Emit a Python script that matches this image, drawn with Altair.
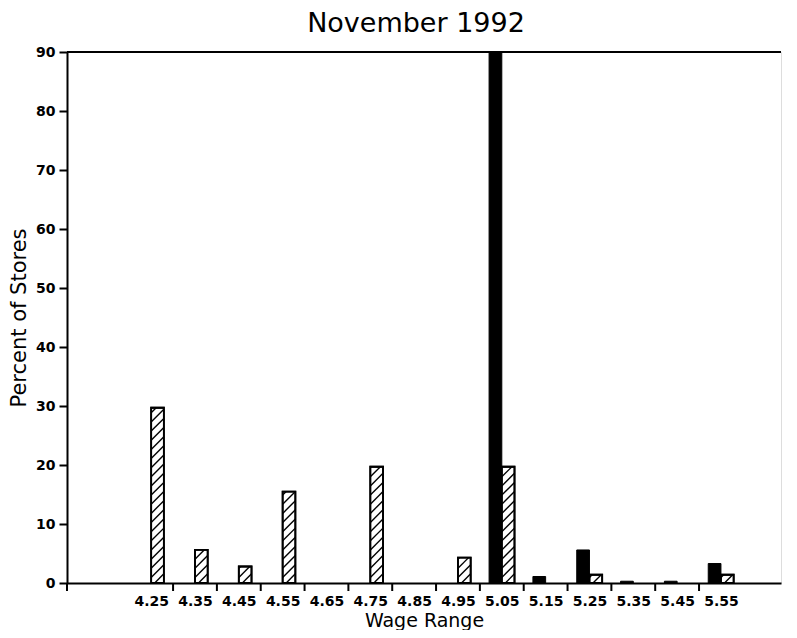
import altair as alt
import pandas as pd
import numpy as np

# ---- data ----
wages = [4.25, 4.35, 4.45, 4.55, 4.65, 4.75, 4.85, 4.95, 5.05, 5.15, 5.25, 5.35, 5.45, 5.55]
wage_labels = ["4.25", "4.35", "4.45", "4.55", "4.65", "4.75", "4.85",
               "4.95", "5.05", "5.15", "5.25", "5.35", "5.45", "5.55"]
new_jersey = [0, 0, 0, 0, 0, 0, 0, 0, 90.0, 1.1, 5.6, 0.3, 0.3, 3.3]
pennsylvania = [29.7, 5.6, 2.8, 15.5, 0, 19.7, 0, 4.3, 19.7, 0, 1.4, 0, 0, 1.4]
tick_bounds = [4.058, 4.30, 4.40, 4.50, 4.60, 4.70, 4.80, 4.90, 5.00, 5.10, 5.20, 5.30, 5.40, 5.50]
y_ticks = [0, 10, 20, 30, 40, 50, 60, 70, 80, 90]

# ---- layout ----
W, H = 714, 531
X_DOM = [4.058, 5.687]
Y_DOM = [0, 90]
BAR_W = 0.029
FONT = "DejaVu Sans"

rows = []
for w, lab, a, b in zip(wages, wage_labels, new_jersey, pennsylvania):
    rows.append({"wage": w, "label": lab, "state": "NJ", "pct": a})
    rows.append({"wage": w, "label": lab, "state": "PA", "pct": b})
df = pd.DataFrame(rows)
df = df[df["pct"] > 0]

# hatch segments (about 45 degrees on screen) inside each Pennsylvania bar
px_x = W / (X_DOM[1] - X_DOM[0])
px_y = H / (Y_DOM[1] - Y_DOM[0])
rise = BAR_W * px_x / px_y
spacing = 1.55
hatch = []
for w, v in zip(wages, pennsylvania):
    if v <= 0:
        continue
    k = 1
    while k * spacing - rise < v:
        y0 = k * spacing - rise
        t0 = max(0.0, -y0 / rise)
        t1 = min(1.0, (v - y0) / rise)
        if t1 > t0:
            hatch.append({"x": w + BAR_W * t0, "x2": w + BAR_W * t1,
                          "y": y0 + rise * t0, "y2": y0 + rise * t1})
        k += 1
hatch_df = pd.DataFrame(hatch)
ticks_df = pd.DataFrame({"b": tick_bounds})

xscale = alt.Scale(domain=X_DOM, nice=False, zero=False)
yscale = alt.Scale(domain=Y_DOM, nice=False)

x_axis = alt.Axis(values=wages, labelExpr="format(datum.value, '.2f')", ticks=False,
                  grid=False, labelFontWeight="bold", labelFontSize=14, labelPadding=11,
                  labelColor="black", domainColor="black", domainWidth=2,
                  title="Wage Range", titleFontSize=19, titleFontWeight="normal",
                  titlePadding=3, titleColor="black", labelFont=FONT, titleFont=FONT)
y_axis = alt.Axis(values=y_ticks, grid=False, labelFontWeight="bold", labelFontSize=14,
                  labelColor="black", domainColor="black", domainWidth=2,
                  tickColor="black", tickWidth=2, tickSize=8, labelPadding=4,
                  title="Percent of Stores", titleFontSize=21, titleFontWeight="normal",
                  titlePadding=6, titleColor="black", labelFont=FONT, titleFont=FONT)

base = alt.Chart(df).transform_calculate(
    x0="datum.state == 'NJ' ? datum.wage - %f : datum.wage" % BAR_W,
    x1="datum.state == 'NJ' ? datum.wage : datum.wage + %f" % BAR_W,
    zero="0",
)

def bar_enc():
    return dict(
        x=alt.X("x0:Q", scale=xscale, axis=x_axis),
        x2="x1:Q",
        y=alt.Y("pct:Q", scale=yscale, axis=y_axis),
        y2=alt.Y2("zero:Q"),
    )

bars_nj = base.transform_filter("datum.state == 'NJ'").mark_bar(
    color="black", stroke="black", strokeWidth=1
).encode(**bar_enc())

bars_pa = base.transform_filter("datum.state == 'PA'").mark_bar(
    fill="white", stroke="black", strokeWidth=1.8
).encode(**bar_enc())

hatch_lines = alt.Chart(hatch_df).mark_rule(color="black", strokeWidth=1.4).encode(
    x=alt.X("x:Q", scale=xscale, axis=x_axis),
    x2="x2:Q",
    y=alt.Y("y:Q", scale=yscale, axis=y_axis),
    y2="y2:Q",
)

pa_outline = base.transform_filter("datum.state == 'PA'").mark_bar(
    fillOpacity=0, stroke="black", strokeWidth=1.8
).encode(**bar_enc())

top_line = alt.Chart(pd.DataFrame({"v": [90]})).mark_rule(color="black", strokeWidth=2).encode(
    y=alt.Y("v:Q", scale=yscale, axis=y_axis),
)

x_ticks = alt.Chart(ticks_df).mark_rule(color="black", strokeWidth=2).encode(
    x=alt.X("b:Q", scale=xscale, axis=x_axis),
    y=alt.value(H),
    y2=alt.value(H + 8),
)

chart = alt.layer(top_line, bars_nj, bars_pa, hatch_lines, pa_outline, x_ticks).properties(
    width=W, height=H,
    title=alt.TitleParams("November 1992", fontSize=27, fontWeight="normal", font=FONT,
                          color="black", offset=7, dx=-8),
).configure_view(stroke=None).configure(padding={"left": 0, "top": 2, "right": 0, "bottom": 0})

chart.save("out.html", embed_options={"renderer": "svg", "actions": False})
